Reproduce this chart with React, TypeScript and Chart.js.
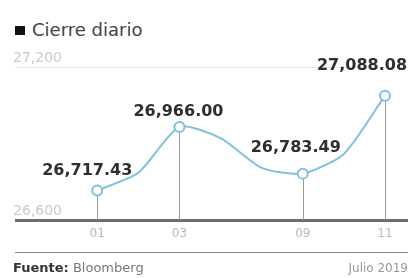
import React, { useEffect, useRef } from "react";
import { Chart, registerables } from "chart.js";

Chart.register(...registerables);

const days = ["01", "02", "03", "05", "08", "09", "10", "11"];
const closes = [26717.43, 26786.68, 26966.0, 26922.12, 26806.14, 26783.49, 26860.2, 27088.08];
const labeledDays = ["01", "03", "09", "11"];
const yTicks = [26600, 27200];

const FONT = "'DejaVu Sans', sans-serif";
const LINE = "#7fc0dc";

const labelShift: [number, number][] = [
  [-10, -20],
  [-1, -15],
  [-7, -26],
  [-23, -30],
];

const fmt = (v: number) =>
  v.toLocaleString("en-US", { minimumFractionDigits: 2, maximumFractionDigits: 2 });

export default function App() {
  const ref = useRef<HTMLCanvasElement | null>(null);

  useEffect(() => {
    if (!ref.current) return;
    const labeledIdx = labeledDays.map((d) => days.indexOf(d));

    const dropLines = {
      id: "dropLines",
      beforeDatasetsDraw(chart: any) {
        const meta = chart.getDatasetMeta(0);
        const bottom = chart.chartArea.bottom;
        const ctx = chart.ctx;
        ctx.save();
        ctx.strokeStyle = "#9a9a9a";
        ctx.lineWidth = 1;
        labeledIdx.forEach((i) => {
          const p = meta.data[i];
          const x = Math.round(p.x) + 0.5;
          ctx.beginPath();
          ctx.moveTo(x, p.y);
          ctx.lineTo(x, bottom - 1);
          ctx.stroke();
        });
        ctx.restore();
      },
    };

    const valueLabels = {
      id: "valueLabels",
      afterDatasetsDraw(chart: any) {
        const meta = chart.getDatasetMeta(0);
        const ctx = chart.ctx;
        ctx.save();
        ctx.font = `bold 16px ${FONT}`;
        ctx.fillStyle = "#2e2e2e";
        ctx.textAlign = "center";
        ctx.textBaseline = "middle";
        labeledIdx.forEach((i, k) => {
          const p = meta.data[i];
          const [dx, dy] = labelShift[k];
          ctx.fillText(fmt(closes[i]), p.x + dx, p.y + dy);
        });
        ctx.restore();
      },
    };

    const chart = new Chart(ref.current, {
      type: "line",
      data: {
        datasets: [
          {
            data: closes.map((v, i) => ({ x: i, y: v })),
            borderColor: LINE,
            borderWidth: 2,
            tension: 0.22,
            pointRadius: (c: any) => (labeledIdx.includes(c.dataIndex) ? 5 : 0),
            pointBorderWidth: 2,
            pointBorderColor: LINE,
            pointBackgroundColor: "#ffffff",
            clip: false,
          } as any,
        ],
      },
      options: {
        animation: false,
        responsive: true,
        maintainAspectRatio: false,
        layout: { autoPadding: false, padding: { left: 15, right: 3, top: 67, bottom: 31 } },
        plugins: { legend: { display: false }, tooltip: { enabled: false } },
        scales: {
          x: {
            type: "linear",
            min: -2,
            max: 7.56,
            border: { display: false },
            grid: { display: false, drawTicks: false },
            afterBuildTicks: (axis: any) => {
              axis.ticks = labeledIdx.map((i) => ({ value: i }));
            },
            afterFit: (axis: any) => {
              axis.paddingLeft = 0;
              axis.paddingRight = 0;
            },
            ticks: {
              padding: 6,
              color: "#b8b8b8",
              font: { family: FONT, size: 12 },
              callback: (v: any) => days[v as number],
            },
          },
          y: {
            min: yTicks[0],
            max: yTicks[yTicks.length - 1],
            border: { display: false },
            afterBuildTicks: (axis: any) => {
              axis.ticks = yTicks.map((v) => ({ value: v }));
            },
            afterFit: (axis: any) => {
              axis.width = 0;
            },
            grid: {
              drawTicks: false,
              color: (c: any) => (c.tick && c.tick.value === yTicks[0] ? "#6e6e6e" : "#ececec"),
              lineWidth: (c: any) => (c.tick && c.tick.value === yTicks[0] ? 3 : 1),
            },
            ticks: {
              mirror: true,
              padding: -2,
              labelOffset: -9,
              color: "#cacaca",
              font: { family: FONT, size: 14 },
              callback: (v: any) => Number(v).toLocaleString("en-US"),
            },
          },
        },
      },
      plugins: [dropLines, valueLabels],
    });
    return () => chart.destroy();
  }, []);

  return (
    <div style={{ position: "absolute", left: 0, top: 0, width: 411, height: 278, background: "#fff", fontFamily: FONT }}>
      <div style={{ position: "absolute", left: 15, top: 20, fontSize: 18, color: "#444", whiteSpace: "nowrap", lineHeight: "20px" }}>
        <span style={{ display: "inline-block", width: 10, height: 9, background: "#111", marginRight: 7, verticalAlign: "1px" }} />
        Cierre diario
      </div>
      <div style={{ position: "absolute", left: 0, top: 0, width: 411, height: 278 }}>
        <canvas ref={ref} />
      </div>
      <div style={{ position: "absolute", left: 15, top: 252, width: 393, borderTop: "1px solid #8a8a8a" }} />
      <div style={{ position: "absolute", left: 13, top: 260, fontSize: 13, color: "#777", whiteSpace: "nowrap", lineHeight: "16px" }}>
        <b style={{ color: "#333" }}>Fuente:</b> Bloomberg
      </div>
      <div style={{ position: "absolute", right: 3, top: 260, fontSize: 12, color: "#999", whiteSpace: "nowrap", lineHeight: "16px" }}>
        Julio 2019
      </div>
    </div>
  );
}
